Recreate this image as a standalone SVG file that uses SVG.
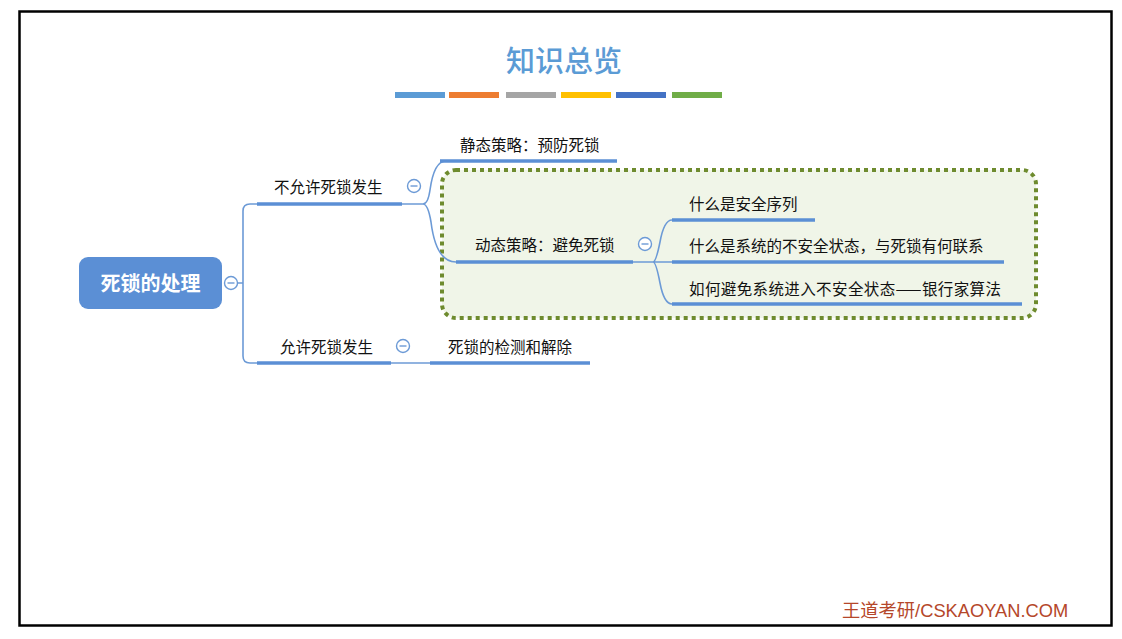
<svg xmlns="http://www.w3.org/2000/svg" width="1122" height="639" viewBox="0 0 1122 639">
<style>
.t{font-family:"Noto Sans CJK SC","Liberation Sans",sans-serif;font-size:15.5px;fill:#111}
.ul{stroke:#5B8FD5;stroke-width:3.5;fill:none}
.cn{stroke:#6C9AD6;stroke-width:1.6;fill:none}
.cc{fill:#fff;stroke:#6C9AD6;stroke-width:1.4}
.cm{stroke:#6C9AD6;stroke-width:1.4}
</style>
<rect x="0" y="0" width="1122" height="639" fill="#fff"/>
<rect x="19.5" y="11.5" width="1092" height="614" fill="#fff" stroke="#000" stroke-width="2.5"/>
<g id="title">
<text x="564" y="72" text-anchor="middle" font-family="Noto Sans CJK SC,serif" font-size="29" font-weight="500" fill="#5B9BD5">知识总览</text>
<rect x="395" y="92" width="50" height="6" fill="#5B9BD5"/>
<rect x="449" y="92" width="50" height="6" fill="#ED7D31"/>
<rect x="506" y="92" width="50" height="6" fill="#A5A5A5"/>
<rect x="561" y="92" width="50" height="6" fill="#FFC000"/>
<rect x="616" y="92" width="50" height="6" fill="#4472C4"/>
<rect x="672" y="92" width="50" height="6" fill="#70AD47"/>
</g>
<g id="boundary">
<rect x="442" y="170" width="594" height="148" rx="14" fill="#F0F5E8" stroke="#6E8B2E" stroke-width="4" stroke-dasharray="4 4"/>
</g>
<g id="connectors">
<path class="cn" d="M238 283 H243 M257 204 H250 Q243 204 243 211 V356 Q243 363 250 363 H257"/>
<path class="cn" d="M402 204 H423 Q428 204 430 190 Q434 161 446 161 M423 204 Q428 204 431 222 Q436 262 456 262"/>
<path class="cn" d="M633 262 H672 M653 262 Q656 262 660 242 Q664 220 672 220 M653 262 Q656 262 660 283 Q664 304 672 304"/>
<path class="cn" d="M391 363 H430"/>
</g>
<g id="root">
<rect x="79" y="257" width="143" height="52" rx="9" fill="#5B8FD5"/>
<text x="150.5" y="291" text-anchor="middle" font-family="Noto Sans CJK SC,sans-serif" font-size="20" font-weight="bold" fill="#fff">死锁的处理</text>
<circle class="cc" cx="231" cy="283" r="6.5"/><line class="cm" x1="227.5" y1="283" x2="234.5" y2="283"/>
</g>
<g id="n-notallow">
<text class="t" x="274" y="193">不允许死锁发生</text>
<line class="ul" x1="257" y1="204" x2="402" y2="204"/>
<circle class="cc" cx="414" cy="186" r="6.5"/><line class="cm" x1="410.5" y1="186" x2="417.5" y2="186"/>
</g>
<g id="n-static">
<text class="t" x="460" y="151">静态策略：预防死锁</text>
<line class="ul" x1="440" y1="161" x2="617" y2="161"/>
</g>
<g id="n-dynamic">
<text class="t" x="475" y="251">动态策略：避免死锁</text>
<line class="ul" x1="456" y1="262" x2="633" y2="262"/>
<circle class="cc" cx="645" cy="244" r="6.5"/><line class="cm" x1="641.5" y1="244" x2="648.5" y2="244"/>
</g>
<g id="n-safeseq">
<text class="t" x="689" y="210">什么是安全序列</text>
<line class="ul" x1="672" y1="220" x2="815" y2="220"/>
</g>
<g id="n-unsafe">
<text class="t" x="689" y="252">什么是系统的不安全状态，与死锁有何联系</text>
<line class="ul" x1="672" y1="262" x2="1004" y2="262"/>
</g>
<g id="n-banker">
<text class="t" x="689" y="295" textLength="312" lengthAdjust="spacing">如何避免系统进入不安全状态——银行家算法</text>
<line class="ul" x1="672" y1="304" x2="1022" y2="304"/>
</g>
<g id="n-allow">
<text class="t" x="280" y="353">允许死锁发生</text>
<line class="ul" x1="257" y1="363" x2="391" y2="363"/>
<circle class="cc" cx="403" cy="346" r="6.5"/><line class="cm" x1="399.5" y1="346" x2="406.5" y2="346"/>
</g>
<g id="n-detect">
<text class="t" x="448" y="353">死锁的检测和解除</text>
<line class="ul" x1="430" y1="363" x2="590" y2="363"/>
</g>
<text x="842" y="617" font-family="Liberation Sans,Noto Sans CJK SC,sans-serif" font-size="18.3" fill="#B5472A">王道考研/CSKAOYAN.COM</text>
</svg>
